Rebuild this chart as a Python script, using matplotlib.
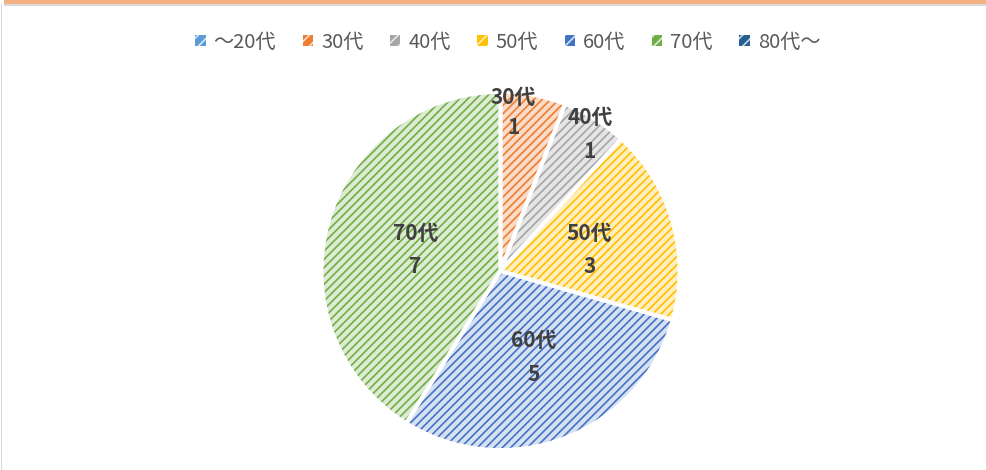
import numpy as np
import matplotlib
matplotlib.use("Agg")
import matplotlib.pyplot as plt
from matplotlib.patches import Rectangle, Patch
from matplotlib.legend_handler import HandlerPatch

plt.rcParams['font.family'] = ['Noto Sans CJK JP', 'DejaVu Sans']
plt.rcParams['hatch.linewidth'] = 1.2

categories = ['～20代', '30代', '40代', '50代', '60代', '70代', '80代～']
values = [0, 1, 1, 3, 5, 7, 0]
dark_colors = ['#5B9BD5', '#ED7D31', '#A5A5A5', '#FFC000', '#4472C4', '#70AD47', '#255E91']
light_colors = ['#D6E6F5', '#FBDCC9', '#E6E6E6', '#FFEFBF', '#D6E0F3', '#DCEBD2', '#C5D4E3']
# label placement: (fraction of radius, angle offset in degrees)
label_dist = [0.5, 0.89, 0.91, 0.51, 0.52, 0.49, 0.5]
label_shift = [0, 6, -1.5, -2.5, 0, 2, 0]

W, H = 987, 470
fig = plt.figure(figsize=(W / 100, H / 100), dpi=100)
ax = fig.add_axes([0, 0, 1, 1])
ax.set_axis_off()

# top decoration (cropped frame)
ax.add_patch(Rectangle((4, H - 3.5), W, 3.5, color='#F4B183', lw=0))
ax.add_patch(Rectangle((4, H - 5.5), W, 2, color='#D9D9D9', lw=0))
ax.add_patch(Rectangle((0.8, 0), 1.6, H - 4, color='#D9D9D9', lw=0))

cx, cy, R = 500.5, H - 271, 179

idx = [i for i, v in enumerate(values) if v > 0]
vals = [values[i] for i in idx]

# base light fill
w1, _ = ax.pie(vals, colors=[light_colors[i] for i in idx], startangle=90,
               counterclock=False, center=(cx, cy), radius=R,
               wedgeprops=dict(linewidth=0))
# hatch overlay
w2, _ = ax.pie(vals, colors=['none'] * len(vals), startangle=90,
               counterclock=False, center=(cx, cy), radius=R,
               wedgeprops=dict(linewidth=0))
for w, i in zip(w2, idx):
    w.set_facecolor('none')
    w.set_edgecolor(dark_colors[i])
    w.set_hatch('////')
    w.set_linewidth(0)
# white separators
w3, _ = ax.pie(vals, colors=['none'] * len(vals), startangle=90,
               counterclock=False, center=(cx, cy), radius=R,
               wedgeprops=dict(linewidth=2.8, edgecolor='white', facecolor='none'))

# data labels
total = sum(values)
cum = 0
for i, v in enumerate(values):
    if v == 0:
        cum += v
        continue
    mid = 90 - (cum + v / 2) / total * 360 + label_shift[i]
    cum += v
    r = label_dist[i] * R
    x = cx + r * np.cos(np.radians(mid))
    y = cy + r * np.sin(np.radians(mid))
    ls = 1.55 if i == 1 else 1.75
    ax.text(x, y, f'{categories[i]}\n{v}', ha='center', va='center',
            fontsize=15, fontweight='bold', color='#404040', linespacing=ls)

ax.set_xlim(0, W)
ax.set_ylim(0, H)


class HatchSquare(HandlerPatch):
    def create_artists(self, legend, orig_handle, xdescent, ydescent, width,
                       height, fontsize, trans):
        s = 7.5
        x0 = xdescent + width - s
        y0 = -ydescent + (height - s) / 2
        p1 = Rectangle((x0, y0), s, s, facecolor=orig_handle.get_facecolor(),
                       edgecolor='none', lw=0, transform=trans)
        p2 = Rectangle((x0, y0), s, s, facecolor='none',
                       edgecolor=orig_handle.get_edgecolor(), hatch='///',
                       lw=0, transform=trans)
        return [p1, p2]


handles = [Patch(facecolor=dark_colors[i], edgecolor=light_colors[i])
           for i in range(len(categories))]
leg = fig.legend(handles, categories, loc='center', bbox_to_anchor=(0.514, 1 - 42 / H),
                 ncol=len(categories), frameon=False, fontsize=14.5,
                 handler_map={Patch: HatchSquare()}, handlelength=0.55,
                 handletextpad=0.4, columnspacing=1.28, labelcolor='#595959')

fig.savefig('out.png', dpi=100)
